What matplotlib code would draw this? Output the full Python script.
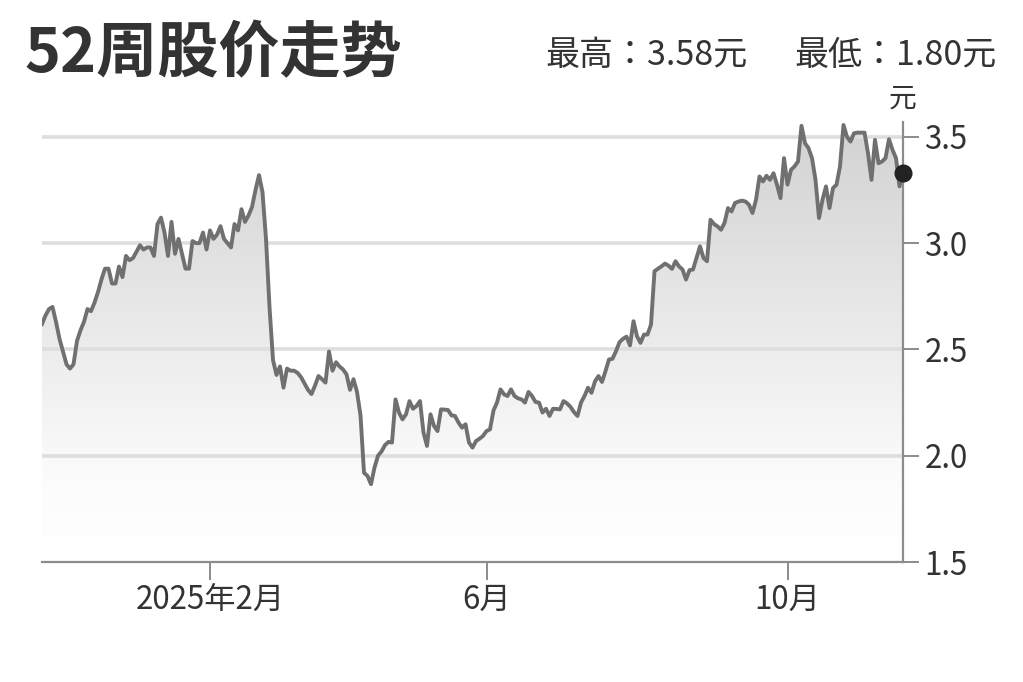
import numpy as np
import matplotlib
matplotlib.use("Agg")
import matplotlib.pyplot as plt
from matplotlib.colors import LinearSegmentedColormap
from matplotlib.patches import Polygon

plt.rcParams['font.family'] = ['Noto Sans CJK SC', 'DejaVu Sans']

# ---- data: trading-day index and closing price (元) ----
day_index = list(range(0, 247))
price = [
    2.62, 2.66, 2.69, 2.70, 2.63, 2.55, 2.49, 2.43, 2.41, 2.43,
    2.54, 2.59, 2.63, 2.69, 2.68, 2.72, 2.77, 2.83, 2.88, 2.88,
    2.81, 2.81, 2.89, 2.84, 2.94, 2.92, 2.93, 2.96, 2.99, 2.97,
    2.98, 2.98, 2.94, 3.09, 3.12, 3.05, 2.94, 3.10, 2.95, 3.02,
    2.95, 2.88, 2.88, 3.01, 3.00, 3.00, 3.05, 2.97, 3.06, 3.02,
    3.04, 3.08, 3.02, 3.00, 2.98, 3.09, 3.06, 3.16, 3.10, 3.13,
    3.17, 3.25, 3.32, 3.24, 3.02, 2.70, 2.45, 2.38, 2.42, 2.32,
    2.41, 2.40, 2.40, 2.39, 2.37, 2.34, 2.31, 2.29, 2.33, 2.375,
    2.36, 2.344, 2.49, 2.40, 2.44, 2.42, 2.406, 2.383, 2.31, 2.36,
    2.30, 2.19, 1.92, 1.905, 1.866, 1.944, 2.00, 2.02, 2.05, 2.065,
    2.062, 2.265, 2.203, 2.171, 2.195, 2.257, 2.221, 2.234, 2.257, 2.109,
    2.046, 2.195, 2.14, 2.116, 2.218, 2.217, 2.215, 2.19, 2.187, 2.156,
    2.132, 2.148, 2.062, 2.038, 2.069, 2.08, 2.093, 2.116, 2.124, 2.213,
    2.25, 2.312, 2.289, 2.281, 2.312, 2.281, 2.27, 2.265, 2.25, 2.30,
    2.281, 2.253, 2.25, 2.203, 2.221, 2.187, 2.221, 2.22, 2.218, 2.257,
    2.246, 2.23, 2.205, 2.187, 2.25, 2.281, 2.320, 2.296, 2.35, 2.375,
    2.347, 2.398, 2.453, 2.456, 2.492, 2.534, 2.55, 2.560, 2.519, 2.633,
    2.562, 2.531, 2.570, 2.570, 2.617, 2.868, 2.88, 2.891, 2.904, 2.894,
    2.879, 2.915, 2.891, 2.876, 2.829, 2.873, 2.876, 2.93, 2.985, 2.93,
    2.915, 3.110, 3.09, 3.079, 3.063, 3.095, 3.165, 3.149, 3.189, 3.196,
    3.20, 3.196, 3.181, 3.142, 3.204, 3.314, 3.290, 3.317, 3.298, 3.329,
    3.275, 3.212, 3.40, 3.275, 3.345, 3.361, 3.384, 3.552, 3.470, 3.447,
    3.40, 3.298, 3.118, 3.204, 3.267, 3.165, 3.259, 3.275, 3.361, 3.556,
    3.50, 3.478, 3.517, 3.52, 3.52, 3.52, 3.423, 3.298, 3.486, 3.376,
    3.384, 3.40, 3.489, 3.439, 3.40, 3.267, 3.332,
]
month_tick_index = [48, 127, 213]
month_tick_labels = ['2025年2月', '6月', '10月']
y_ticks = [1.5, 2.0, 2.5, 3.0, 3.5]
title_text = '52周股价走势'
high_text = '最高：3.58元'
low_text = '最低：1.80元'
unit_text = '元'

x = np.array(day_index, dtype=float)
y = np.array(price)

W, H = 1023, 682
fig = plt.figure(figsize=(W / 100, H / 100), dpi=100)
fig.patch.set_facecolor('white')
ax = fig.add_axes([42 / W, 1 - 562 / H, (903 - 42) / W, (562 - 122) / H])
ymin, ymax = 1.5, 3.57
ax.set_xlim(x[0], x[-1])
ax.set_ylim(ymin, ymax)

# gradient fill under the line
cmap = LinearSegmentedColormap.from_list(
    'fade', [(0.0, '#ffffff'), (0.18, '#fcfcfc'), (1.0, '#d2d2d2')])
grad = np.linspace(1, 0, 256).reshape(-1, 1)
im = ax.imshow(grad, extent=[x[0], x[-1], ymin, ymax], aspect='auto',
               cmap=cmap, origin='upper', zorder=1, interpolation='bilinear')
verts = np.column_stack([np.r_[x, x[-1], x[0]], np.r_[y, ymin, ymin]])
poly = Polygon(verts, closed=True, facecolor='none', edgecolor='none',
               transform=ax.transData)
ax.add_patch(poly)
im.set_clip_path(poly)

# grid
for yt in y_ticks[1:]:
    ax.axhline(yt, color='#dedede', lw=2.6, zorder=2)

ax.plot(x, y, color='#707070', lw=2.8, zorder=3, solid_joinstyle='round')
ax.plot([x[-1]], [y[-1]], 'o', color='#222222', ms=12, zorder=5, clip_on=False)

# axes styling
for s in ['top', 'left']:
    ax.spines[s].set_visible(False)
for s in ['bottom', 'right']:
    ax.spines[s].set_color('#8c8c8c')
    ax.spines[s].set_linewidth(1.6)
ax.yaxis.tick_right()
ax.set_yticks(y_ticks)
ax.set_yticklabels([f'{v:.1f}' for v in y_ticks])
ax.set_xticks(month_tick_index)
ax.set_xticklabels(month_tick_labels)
ax.tick_params(axis='y', direction='out', length=11.5, width=1.4, color='#8c8c8c',
               labelsize=22.5, labelcolor='#333333', pad=4)
ax.tick_params(axis='x', direction='out', length=13, width=1.4, color='#8c8c8c',
               labelsize=22.5, labelcolor='#333333', pad=3)

ax.annotate(unit_text, xy=(1.0, 1.0), xycoords='axes fraction',
            xytext=(0, 6), textcoords='offset points', ha='center', va='bottom',
            fontsize=20, color='#333333')

fig.text(24 / W, 1 - 54 / H, title_text, fontsize=44, fontweight='bold',
         color='#333333', ha='left', va='center')
jp = ['Noto Sans CJK JP', 'DejaVu Sans']
fig.text(545 / W, 1 - 55 / H, high_text, fontsize=24.5, color='#333333',
         ha='left', va='center', family=jp)
fig.text(997 / W, 1 - 55 / H, low_text, fontsize=24.5, color='#333333',
         ha='right', va='center', family=jp)

fig.savefig('out.png', dpi=100, facecolor='white')
